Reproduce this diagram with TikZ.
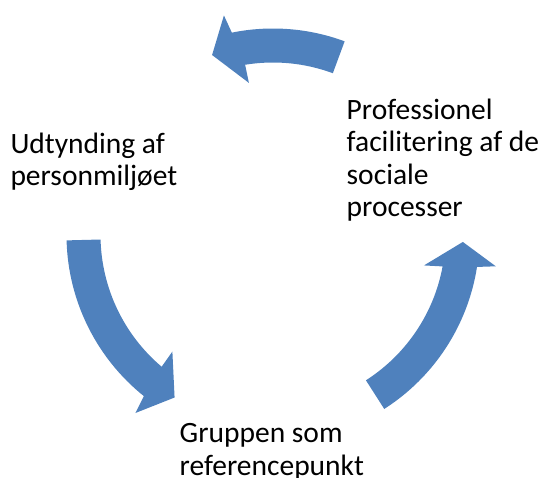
\documentclass[tikz,border=0pt]{standalone}
\usepackage{fontspec}
\setmainfont{Carlito}
\usetikzlibrary{calc}
\definecolor{sablue}{HTML}{4F81BD}
\newcommand\cycarrow[6]{%
  \fill[sablue] ($(C)+(#1:206.5)$) arc[start angle=#1, end angle=#2, radius=206.5]
    -- ($(C)+(#4:225)$) -- ($(C)+(#6:190)$) -- ($(C)+(#5:154)$)
    -- ($(C)+(#3:172.5)$) arc[start angle=#3, end angle=#1, radius=172.5] -- cycle;}
\tikzset{lbl/.style={align=left, inner sep=0pt, font=\fontsize{29.5}{32.5}\selectfont}}
\begin{document}
\begin{tikzpicture}[x=1pt,y=1pt]
\useasboundingbox (0,0) rectangle (541,478);
\coordinate (C) at (273,243);
% top arrow
\cycarrow{69.7}{101.5}{99.3}{102.6}{99.0}{108.7}
% right arrow
\cycarrow{-57.4}{-8.9}{-10.5}{-8.0}{-11.4}{-2.1}
% left arrow
\cycarrow{181.5}{231.3}{229.8}{232.3}{229.2}{238.8}
\node[lbl, anchor=base west] (udt) at (10.3,292) {Udtynding af\\personmiljøet};
\node[lbl, anchor=base west] (pro) at (346.5,261) {Professionel\\facilitering af de\\sociale\\processer};
\node[lbl, anchor=base west] (gru) at (179.5,2.5) {Gruppen som\\referencepunkt};
\end{tikzpicture}
\end{document}
